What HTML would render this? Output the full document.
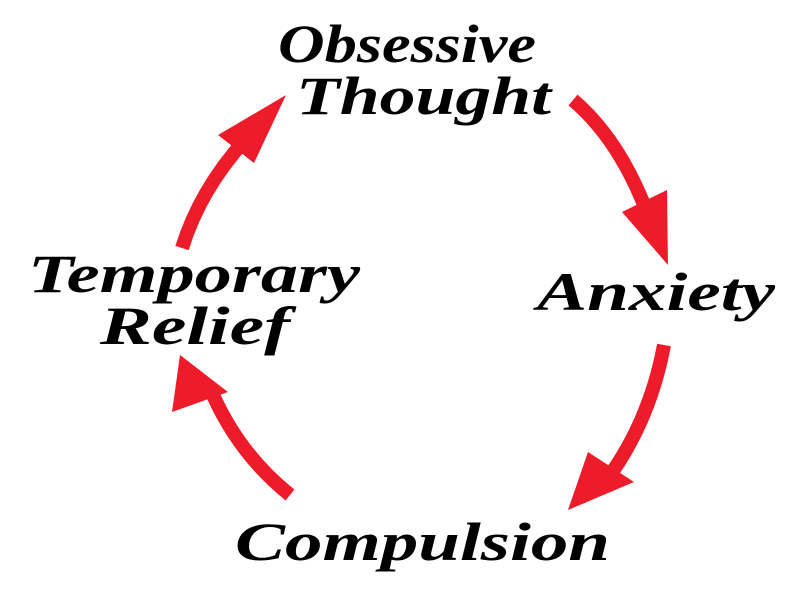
<!DOCTYPE html>
<html><head><style>html,body{margin:0;padding:0;background:#fff}svg{display:block}</style></head>
<body>
<svg width="800" height="597" viewBox="0 0 800 597" xmlns="http://www.w3.org/2000/svg">
<g fill="none" stroke="#ee1c2a" stroke-width="14">
<path d="M573,100 Q620,140 648,215"/>
<path d="M664,345 Q650,420 608,478"/>
<path d="M290,495 Q240,455 213,395"/>
<path d="M182,248 Q200,190 245,140"/>
</g>
<g fill="#ee1c2a">
<polygon points="622,212 667,190 668,265"/>
<polygon points="588,452 634,482 568,510"/>
<polygon points="172,412 228,392 180,355"/>
<polygon points="218,135 254,163 286,95"/>
</g>
<g font-family="Liberation Serif, serif" font-style="italic" font-weight="bold" fill="#000" font-size="54">
<text x="278" y="62" textLength="258" lengthAdjust="spacingAndGlyphs">Obsessive</text>
<text x="296" y="114" textLength="255" lengthAdjust="spacingAndGlyphs">Thought</text>
<text x="537" y="310" textLength="238" lengthAdjust="spacingAndGlyphs">Anxiety</text>
<text x="28" y="292" textLength="332" lengthAdjust="spacingAndGlyphs">Temporary</text>
<text x="100" y="344" textLength="190" lengthAdjust="spacingAndGlyphs">Relief</text>
<text x="235" y="560" textLength="375" lengthAdjust="spacingAndGlyphs">Compulsion</text>
</g>
</svg>
</body></html>
